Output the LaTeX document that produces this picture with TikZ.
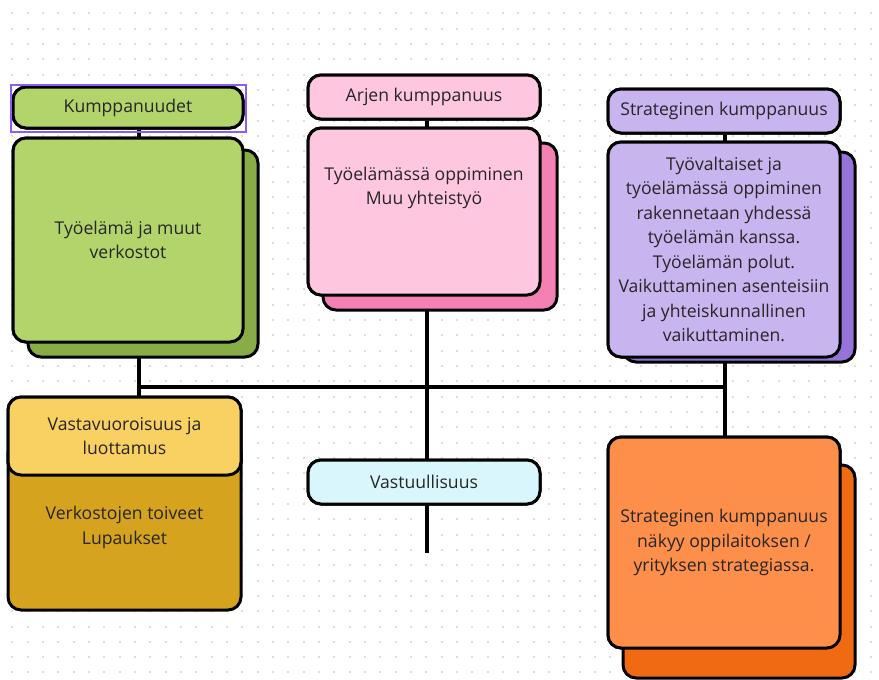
\documentclass[tikz,border=0pt]{standalone}
\usepackage{fontspec}
\setmainfont{Open Sans}
\definecolor{gfront}{HTML}{B3D46B}
\definecolor{gshadow}{HTML}{89AD46}
\definecolor{pfront}{HTML}{FEC6DF}
\definecolor{pshadow}{HTML}{F580B4}
\definecolor{vfront}{HTML}{C8B4EE}
\definecolor{vshadow}{HTML}{9573D8}
\definecolor{yhead}{HTML}{F9D062}
\definecolor{ygold}{HTML}{D6A31E}
\definecolor{cyanbox}{HTML}{D9F6FD}
\definecolor{ofront}{HTML}{FD8F4B}
\definecolor{oshadow}{HTML}{F06913}
\definecolor{selpurple}{HTML}{8B5CF6}
\definecolor{dotgray}{HTML}{DCDCE2}
\definecolor{txt}{HTML}{262626}
\begin{document}
\begin{tikzpicture}[x=1pt,y=-1pt,
  box/.style={draw=black, line width=3pt, rounded corners=13pt, inner sep=0pt,
    minimum width=230pt, align=center, text=txt,
    font=\fontsize{17.6}{24.5}\selectfont},
  lbl/.style={align=center, text=txt, inner sep=0pt, font=\fontsize{17.6}{24.5}\selectfont},
  conn/.style={line width=3.5pt, black}]
\useasboundingbox (0,0) rectangle (879,680);
\fill[white] (0,0) rectangle (879,680);
% dotted grid
\foreach \i in {0,...,57}{
  \foreach \j in {0,...,44}{
    \fill[dotgray] ({12.3+15.33*\i-1},{13.3+15.33*\j-1}) rectangle ++(2,2);
  }
}
% connector positions
\coordinate (gx) at (139,0);
\coordinate (px) at (427,0);
\coordinate (vx) at (725,0);
\coordinate (hy) at (0,387);
\coordinate (vend) at (427,553);

% placement nodes (outlines, later covered by filled boxes)
\path
  node[box, minimum width=230pt, minimum height=41pt] (kh) at (128,107.5) {}
  node[box, minimum height=204pt] (kb) at (128,240) {}
  node[box, minimum width=232pt, minimum height=44pt] (ah) at (424,97) {}
  node[box, minimum width=232pt, minimum height=167pt] (ab) at (424,211.5) {}
  node[box, minimum width=232pt, minimum height=44pt] (sh) at (724,111) {}
  node[box, minimum width=232pt, minimum height=215pt] (sb) at (724,249.5) {}
  node[box, minimum width=233pt, minimum height=78pt] (vh) at (124.5,436) {}
  node[box, minimum width=232pt, minimum height=44pt] (vs) at (424,482) {}
  node[box, minimum width=232pt, minimum height=211pt] (ob) at (724,542.5) {};

% connectors
\draw[conn] (kh.south -| gx) -- (kb.north -| gx);
\draw[conn] (kb.south -| gx) -- (vh.north -| gx);
\draw[conn] (hy -| gx) -- (hy -| vx);
\draw[conn] (ah.south -| px) -- (ab.north -| px);
\draw[conn] (ab.south -| px) -- (vend);
\draw[conn] (sh.south -| vx) -- (sb.north -| vx);
\draw[conn] (sb.south -| vx) -- (ob.north -| vx);

% green column
\node[box, fill=gshadow, minimum width=230pt, minimum height=207pt] (kbs) at (143,253.5) {};
\node[box, fill=gfront, minimum height=204pt] (kb2) at (kb) {Työelämä ja muut\\verkostot};
\node[box, fill=gfront, minimum width=230pt, minimum height=41pt] (kh2) at (kh) {Kumppanuudet};
\node[draw=selpurple, line width=2pt, minimum width=235pt, minimum height=47pt, inner sep=0pt] (sel) at (128.5,108) {};

% pink column
\node[box, fill=pshadow, minimum width=234pt, minimum height=167pt] (abs) at (440,226.5) {};
\node[box, fill=pfront, minimum width=232pt, minimum height=167pt] (ab2) at (ab) {};
\node[lbl, anchor=north] (abt) at ([yshift=-40pt]ab.north) {Työelämässä oppiminen\\Muu yhteistyö};
\node[box, fill=pfront, minimum width=232pt, minimum height=44pt] (ah2) at (ah) {Arjen kumppanuus};

% lavender column
\node[box, fill=vshadow, minimum width=232pt, minimum height=210pt] (sbs) at (739,257) {};
\node[box, fill=vfront, minimum width=232pt, minimum height=215pt] (sb2) at (sb) {Työvaltaiset ja\\työelämässä oppiminen\\rakennetaan yhdessä\\työelämän kanssa.\\Työelämän polut.\\Vaikuttaminen asenteisiin\\ja yhteiskunnallinen\\vaikuttaminen.};
\node[box, fill=vfront, minimum width=232pt, minimum height=44pt] (sh2) at (sh) {Strateginen kumppanuus};

% yellow / gold
\node[box, fill=ygold, minimum width=233pt, minimum height=170pt] (gold) at (124.5,525) {};
\node[lbl] (goldt) at (124.5,527.5) {Verkostojen toiveet\\Lupaukset};
\node[box, fill=yhead, minimum width=233pt, minimum height=78pt] (vh2) at (vh) {Vastavuoroisuus ja\\luottamus};

% cyan
\node[box, fill=cyanbox, minimum width=232pt, minimum height=44pt] (vs2) at (vs) {Vastuullisuus};

% orange
\node[box, fill=oshadow, minimum width=232pt, minimum height=213pt] (obs) at (739,571.5) {};
\node[box, fill=ofront, minimum width=232pt, minimum height=211pt] (ob2) at (ob) {Strateginen kumppanuus\\näkyy oppilaitoksen /\\yrityksen strategiassa.};
\end{tikzpicture}
\end{document}
